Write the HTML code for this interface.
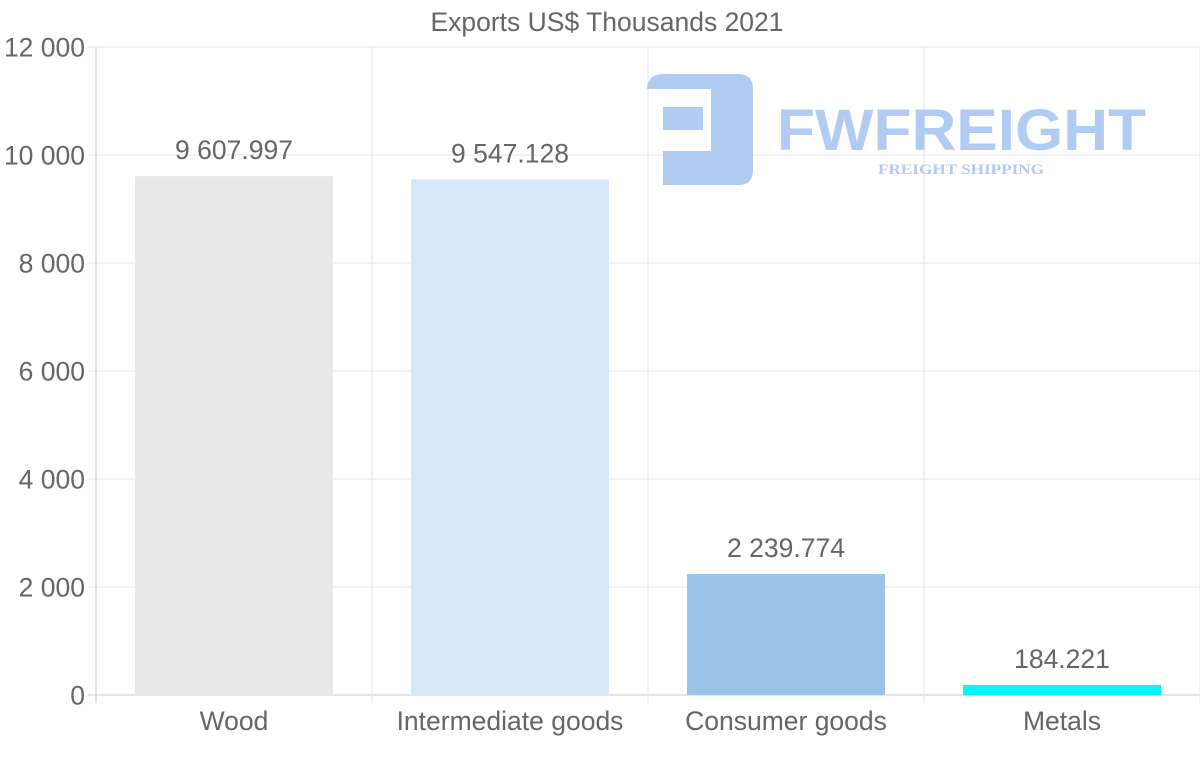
<!DOCTYPE html>
<html><head><meta charset="utf-8"><style>
body{margin:0;background:#fff;width:1200px;height:763px;overflow:hidden;font-family:"Liberation Sans",sans-serif}
svg text{font-family:"Liberation Sans",sans-serif}
</style></head><body>
<svg id="chart" width="1200" height="763" xmlns="http://www.w3.org/2000/svg">
<text x="607" y="31" text-anchor="middle" font-size="26.5" fill="#666">Exports US$ Thousands 2021</text>
<g id="grid"></g>
<g id="watermark" opacity="0.9">
<path d="M663 185 V151 H711 V89 H647 Q648 74 663 74 H738 Q753 74 753 89 V170 Q753 185 738 185 Z" fill="#aac6f2"/>
<rect x="663" y="107" width="40" height="23" fill="#aac6f2"/>
<text x="777" y="150" font-size="58" font-weight="bold" fill="#aac6f2" textLength="369" lengthAdjust="spacingAndGlyphs">FWFREIGHT</text>
<text x="878" y="174" font-size="15" font-weight="bold" fill="#aac6f2" style="font-family:'Liberation Serif',serif" textLength="166" lengthAdjust="spacingAndGlyphs">FREIGHT SHIPPING</text>
</g>
<g id="bars"></g>
</svg>
<script>
const categories=["Wood","Intermediate goods","Consumer goods","Metals"];
const values=[9607.997,9547.128,2239.774,184.221];
const valueLabels=["9 607.997","9 547.128","2 239.774","184.221"];
const colors=["#e8e8e8","#d8e7f8","#9bc4e8","#00f7fb"];
const yTicks=[0,2000,4000,6000,8000,10000,12000];
const yTickLabels=["0","2 000","4 000","6 000","8 000","10 000","12 000"];
const NS="http://www.w3.org/2000/svg";
const L=96,R=1200,T=47,B=695,yMax=12000;
const y=v=>B-(v/yMax)*(B-T);
const bw=(R-L)/categories.length;
const xc=i=>L+bw*(i+0.5);
function mk(tag,attrs,parent){const e=document.createElementNS(NS,tag);for(const k in attrs)e.setAttribute(k,attrs[k]);parent.appendChild(e);return e;}
const grid=document.getElementById('grid'),bars=document.getElementById('bars');
yTicks.forEach((t,i)=>{
  const l=mk('line',{x1:L-8,x2:R,y1:y(t),y2:y(t),stroke:i==0?'#ccc':'#e6e6e6','stroke-width':1},grid);
  
  
  const tx=mk('text',{x:L-11,y:y(t)+9.5,'text-anchor':'end','font-size':26.5,fill:'#666'},grid);
  tx.textContent=yTickLabels[i];
  
  
});
for(let i=0;i<=categories.length;i++){
  const x=L+bw*i;
  const l=mk('line',{x1:x,x2:x,y1:T,y2:B+8,stroke:i==0?'#ccc':'#e6e6e6','stroke-width':1},grid);
  
  
}
categories.forEach((c,i)=>{
  const w=198,yy=y(values[i]);
  const r=mk('rect',{x:xc(i)-w/2,y:yy,width:w,height:B-yy,fill:colors[i]},bars);
  
  
  const vl=mk('text',{x:xc(i),y:yy-17,'text-anchor':'middle','font-size':26.5,fill:'#666'},bars);
  vl.textContent=valueLabels[i];
  
  
  const cl=mk('text',{x:xc(i),y:730,'text-anchor':'middle','font-size':26.5,fill:'#666'},bars);
  cl.textContent=c;
  
  
});
</script>
</body></html>
